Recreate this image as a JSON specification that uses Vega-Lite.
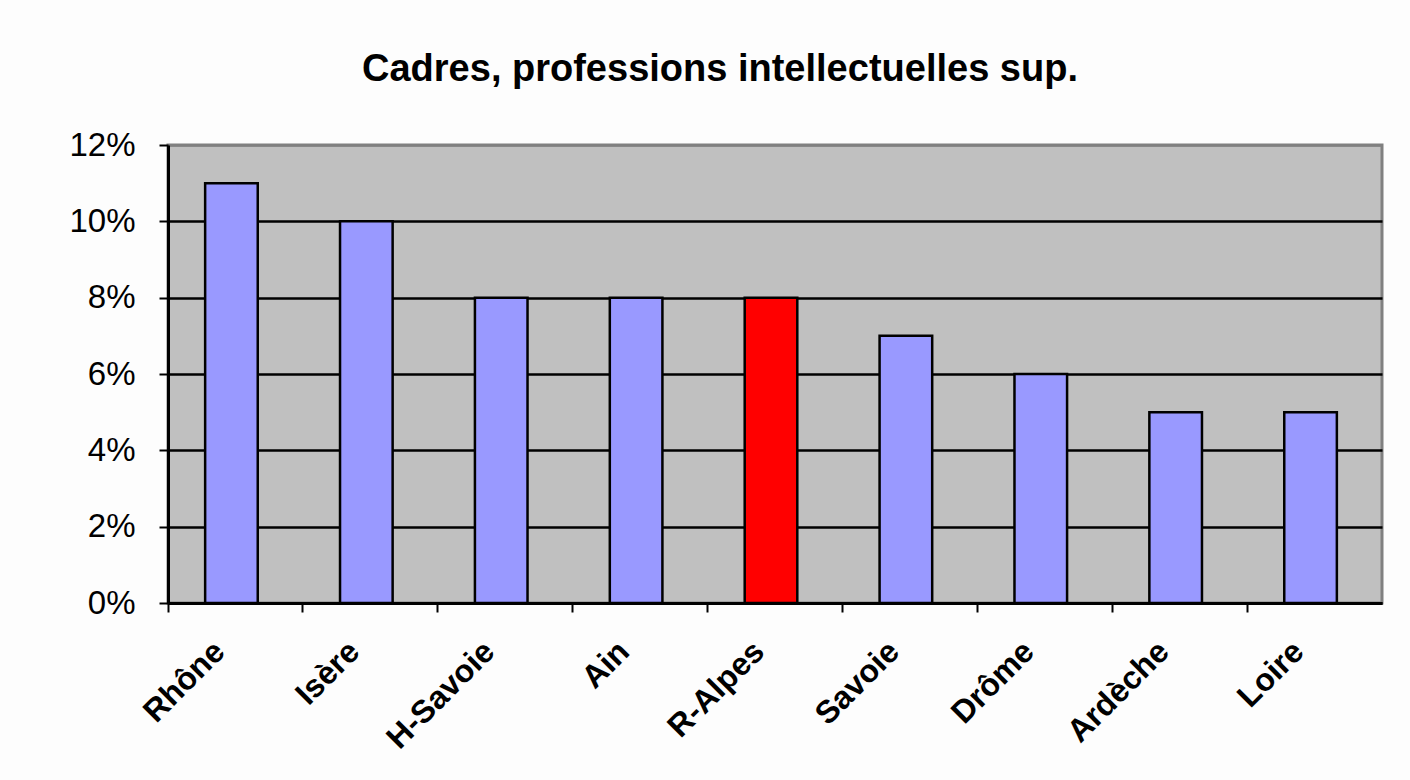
{
  "$schema": "https://vega.github.io/schema/vega-lite/v6.json",
  "autosize": "none",
  "width": 1214,
  "height": 458,
  "padding": {"left": 168, "top": 145, "right": 28, "bottom": 177},
  "background": "#fdfdfd",
  "title": {
    "text": "Cadres, professions intellectuelles sup.",
    "font": "Liberation Sans",
    "fontSize": 38,
    "fontWeight": "bold",
    "color": "black",
    "anchor": "middle",
    "dx": -55,
    "offset": 10,
    "baseline": "alphabetic"
  },
  "config": {
    "view": {"stroke": "#808080", "strokeWidth": 3, "fill": "#c0c0c0"}
  },
  "data": {
    "values": [
      {"dept": "Rhône", "value": 0.11, "group": "dep"},
      {"dept": "Isère", "value": 0.10, "group": "dep"},
      {"dept": "H-Savoie", "value": 0.08, "group": "dep"},
      {"dept": "Ain", "value": 0.08, "group": "dep"},
      {"dept": "R-Alpes", "value": 0.08, "group": "region"},
      {"dept": "Savoie", "value": 0.07, "group": "dep"},
      {"dept": "Drôme", "value": 0.06, "group": "dep"},
      {"dept": "Ardèche", "value": 0.05, "group": "dep"},
      {"dept": "Loire", "value": 0.05, "group": "dep"}
    ]
  },
  "mark": {"type": "bar", "width": {"band": 0.39}, "xOffset": -4, "stroke": "black", "strokeWidth": 2.5},
  "encoding": {
    "x": {
      "field": "dept",
      "type": "nominal",
      "sort": null,
      "title": null,
      "scale": {"paddingInner": 0, "paddingOuter": 0},
      "axis": {
        "bandPosition": 0,
        "domainColor": "black",
        "domainWidth": 3,
        "tickColor": "black",
        "tickWidth": 2,
        "tickSize": 9,
        "labelAngle": -45,
        "labelAlign": "right",
        "labelBaseline": "middle",
        "labelFont": "Liberation Sans",
        "labelFontWeight": "bold",
        "labelFontSize": 32,
        "labelColor": "black",
        "labelPadding": 34,
        "labelOffset": -16,
        "grid": false
      }
    },
    "y": {
      "field": "value",
      "type": "quantitative",
      "title": null,
      "scale": {"domain": [0, 0.12], "nice": false},
      "axis": {
        "values": [0, 0.02, 0.04, 0.06, 0.08, 0.1, 0.12],
        "format": ".0%",
        "domainColor": "black",
        "domainWidth": 3,
        "tickColor": "black",
        "tickWidth": 2,
        "tickSize": 9,
        "labelFont": "Liberation Sans",
        "labelFontSize": 33,
        "labelColor": "black",
        "labelPadding": 24,
        "grid": true,
        "gridColor": {"condition": {"test": "datum.value >= 0.12", "value": "#808080"}, "value": "black"},
        "gridWidth": 2.5,
        "gridOpacity": 1
      }
    },
    "color": {
      "field": "group",
      "type": "nominal",
      "scale": {"domain": ["dep", "region"], "range": ["#9999ff", "#ff0000"]},
      "legend": null
    }
  }
}
